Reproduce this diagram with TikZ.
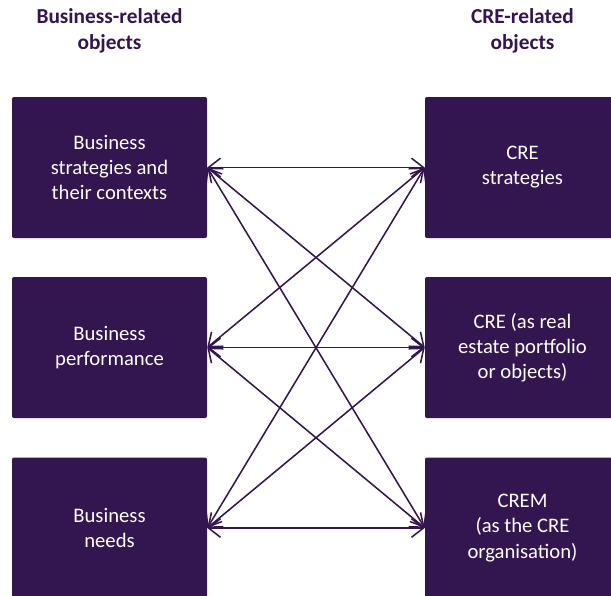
\documentclass[tikz,border=0pt]{standalone}
\usepackage{fontspec}
\setmainfont{Carlito}
\usetikzlibrary{arrows.meta}
\definecolor{crepurple}{HTML}{33154F}

\begin{document}
\begin{tikzpicture}[x=0.75pt,y=-0.75pt,
        objbox/.style={rectangle, rounded corners=1.5pt, fill=crepurple, text=white,
            minimum width=146.25pt, minimum height=105.75pt, align=center,
            font=\fontsize{15.5}{18.8}\selectfont},
        heading/.style={text=crepurple, align=center,
            font=\fontsize{16}{19.5}\selectfont\bfseries},
        link/.style={draw=crepurple, line width=1.15pt,
            {Straight Barb[length=9pt,width=14pt]}-{Straight Barb[length=9pt,width=14pt]}}]
        \useasboundingbox (0,0) rectangle (611,596);
        \clip (0,0) rectangle (611,596);

        \node[heading] (hbus) at (109.5, 31) {Business-related\\objects};
        \node[heading] (hcre) at (522.5, 31) {CRE-related\\objects};

        \node[objbox] (bstrat) at (109.5, 167.5) {Business\\strategies and\\their contexts};
        \node[objbox] (bperf) at (109.5, 347.5) {Business\\performance};
        \node[objbox] (bneeds) at (109.5, 528) {Business\\needs};
        \node[objbox] (cstrat) at (522.5, 167.5) {CRE\\strategies};
        \node[objbox] (cport) at (522.5, 347.5) {CRE (as real\\estate portfolio\\or objects)};
        \node[objbox] (corg) at (522.5, 528) {CREM\\(as the CRE\\organisation)};

        \draw[link] (bstrat.east) -- (cstrat.west);
        \draw[link] (bstrat.east) -- (cport.west);
        \draw[link] (bstrat.east) -- (corg.west);
        \draw[link] (bperf.east) -- (cstrat.west);
        \draw[link] (bperf.east) -- (cport.west);
        \draw[link] (bperf.east) -- (corg.west);
        \draw[link] (bneeds.east) -- (cstrat.west);
        \draw[link] (bneeds.east) -- (cport.west);
        \draw[link] (bneeds.east) -- (corg.west);

    \end{tikzpicture}
\end{document}
